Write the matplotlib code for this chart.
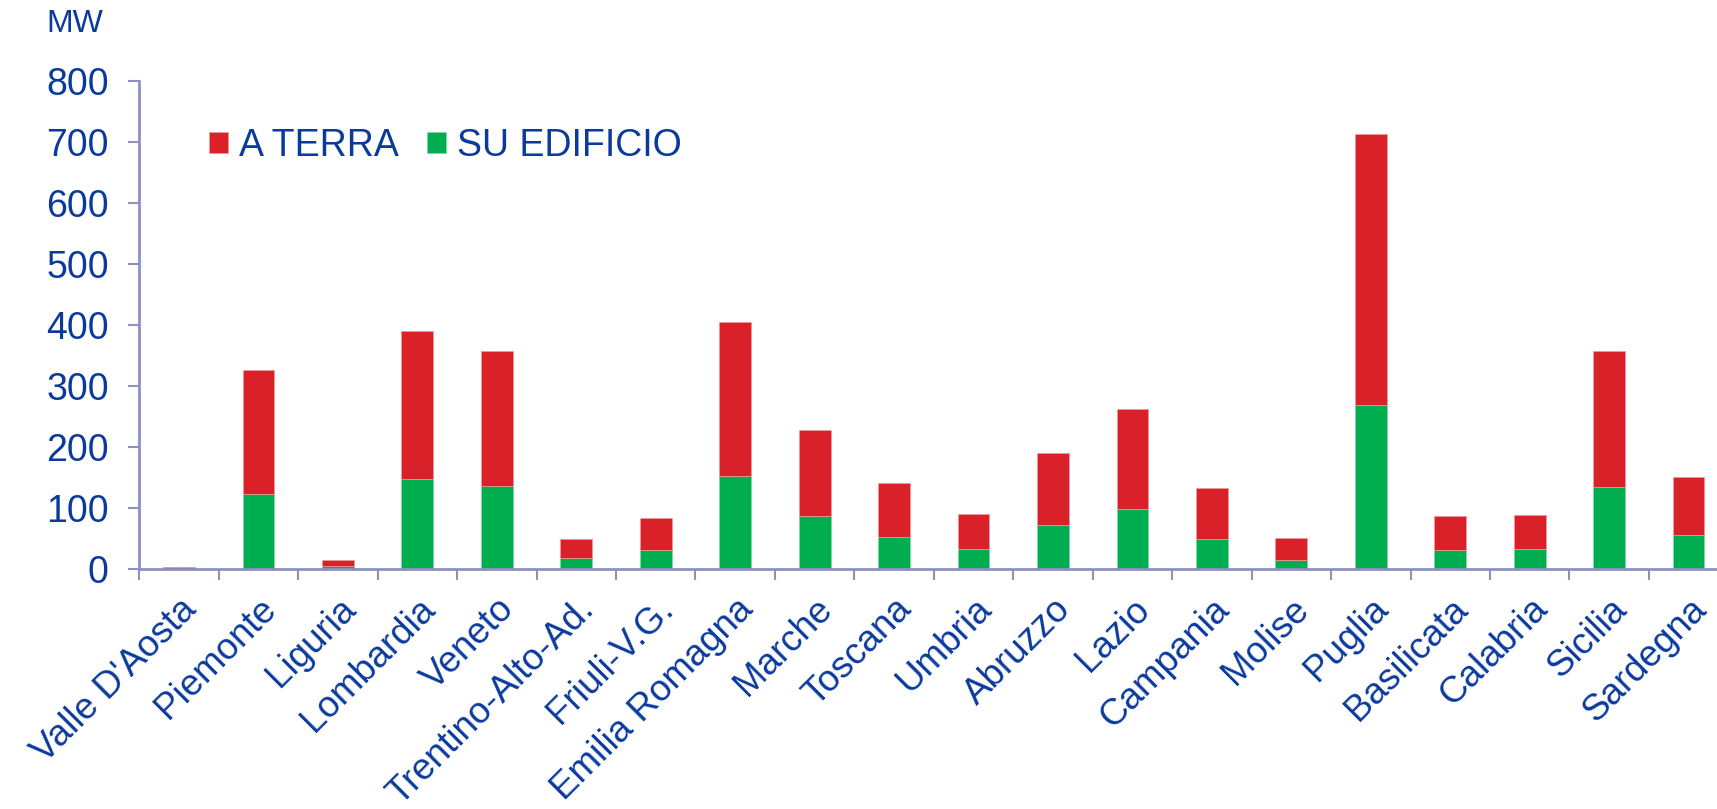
import matplotlib.pyplot as plt
import numpy as np

plt.rcParams['font.family'] = ['Liberation Sans', 'DejaVu Sans']

regioni = ["Valle D'Aosta", "Piemonte", "Liguria", "Lombardia", "Veneto",
           "Trentino-Alto-Ad.", "Friuli-V.G.", "Emilia Romagna", "Marche",
           "Toscana", "Umbria", "Abruzzo", "Lazio", "Campania", "Molise",
           "Puglia", "Basilicata", "Calabria", "Sicilia", "Sardegna"]

# MW installati su edificio e totale (edificio + a terra)
su_edificio = [0.5, 124, 5, 148, 136, 18, 31, 153, 87, 53, 33, 72, 99, 50, 16,
               270, 32, 33, 135, 57]
totale = [3.5, 327, 15, 390, 358, 50, 84, 406, 229, 142, 90, 191, 263, 133, 51,
          713, 87, 89, 358, 152]
a_terra = [t - e for t, e in zip(totale, su_edificio)]

blu = '#0a3a9c'
rosso = '#da2028'
verde = '#00ae4f'
asse = '#8e90c2'

fig = plt.figure(figsize=(17.17, 8.09), dpi=100)
# l'asse x prosegue oltre il bordo destro della figura
ax = fig.add_axes([0.0811, 0.2963, 0.9255, 0.6035])

x = np.arange(len(regioni))
w = 0.4
b1 = ax.bar(x, su_edificio, w, color=verde, edgecolor='#7fd6a7', linewidth=0.5)
b2 = ax.bar(x, a_terra, w, bottom=su_edificio, color=rosso,
            edgecolor='#ee9a9e', linewidth=0.5)

ax.set_xlim(-0.5, len(regioni) - 0.5)
ax.set_ylim(0, 800)
ax.set_yticks(range(0, 801, 100))
ax.tick_params(axis='y', labelsize=27, colors=asse, labelcolor=blu,
               length=8, width=1.5, pad=14)

# tacche tra le categorie, etichette al centro
ax.set_xticks(np.arange(-0.5, len(regioni), 1.0))
ax.set_xticklabels([])
ax.set_xticks(x, minor=True)
ax.set_xticklabels(regioni, minor=True, rotation=45, ha='right',
                   rotation_mode='anchor', fontsize=26.5, color=blu)
ax.tick_params(axis='x', which='major', length=8, width=1.5, colors=asse)
ax.tick_params(axis='x', which='minor', length=0, pad=16)

for s in ['top', 'right']:
    ax.spines[s].set_visible(False)
for s in ['left', 'bottom']:
    ax.spines[s].set_color(asse)
    ax.spines[s].set_linewidth(2)

fig.text(0.0268, 0.97, 'MW', fontsize=23, color=blu, va='center')

fig.legend([b2, b1], ['A TERRA', 'SU EDIFICIO'], loc='center left',
           bbox_to_anchor=(0.102, 0.8195), ncol=2, frameon=False,
           fontsize=27, labelcolor=blu, handlelength=0.5, handleheight=0.5,
           handletextpad=0.3, columnspacing=0.75)

fig.savefig('out.png', dpi=100)
